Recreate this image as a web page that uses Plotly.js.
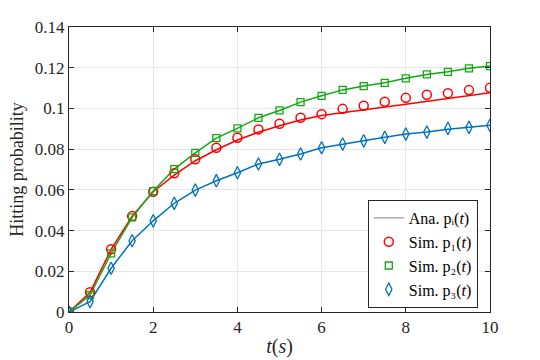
<!DOCTYPE html>
<html>
<head>
<meta charset="utf-8">
<script src="https://cdn.plot.ly/plotly-3.0.1.min.js"></script>
<style>body{margin:0;background:#fff}</style>
</head>
<body>
<div id="chart" style="width:540px;height:360px"></div>
<script>
// time samples (s)
var t = [0, 0.5, 1, 1.5, 2, 2.5, 3, 3.5, 4, 4.5, 5, 5.5, 6, 6.5, 7, 7.5, 8, 8.5, 9, 9.5, 10];

// analytical curves
var anaP1 = [0, 0.0097, 0.0308, 0.0471, 0.0591, 0.0672, 0.0743, 0.0797, 0.0845, 0.0883, 0.0915, 0.0943, 0.0965, 0.0980, 0.0993, 0.1007, 0.1021, 0.1035, 0.1049, 0.1063, 0.1077];
var anaP2 = [0, 0.0083, 0.0288, 0.0465, 0.0594, 0.0702, 0.0782, 0.0854, 0.0902, 0.0954, 0.0990, 0.1031, 0.1062, 0.1091, 0.1110, 0.1126, 0.1148, 0.1167, 0.1180, 0.1197, 0.1208];
var anaP3 = [0, 0.0051, 0.0215, 0.0350, 0.0448, 0.0534, 0.0599, 0.0645, 0.0684, 0.0727, 0.0750, 0.0776, 0.0807, 0.0825, 0.0841, 0.0858, 0.0874, 0.0884, 0.0898, 0.0907, 0.0917];

// simulation points
var simP1 = [0, 0.0097, 0.0308, 0.0471, 0.0591, 0.0681, 0.0750, 0.0807, 0.0856, 0.0897, 0.0925, 0.0954, 0.0972, 0.0998, 0.1013, 0.1033, 0.1052, 0.1067, 0.1075, 0.1090, 0.1101];
var simP2 = [0, 0.0083, 0.0288, 0.0465, 0.0594, 0.0702, 0.0782, 0.0854, 0.0902, 0.0954, 0.0990, 0.1031, 0.1062, 0.1091, 0.1110, 0.1126, 0.1148, 0.1167, 0.1180, 0.1197, 0.1208];
var simP3 = [0, 0.0051, 0.0215, 0.0350, 0.0448, 0.0534, 0.0599, 0.0645, 0.0684, 0.0727, 0.0750, 0.0776, 0.0807, 0.0825, 0.0841, 0.0858, 0.0874, 0.0884, 0.0902, 0.0907, 0.0917];

var legendNames = ['Ana. pᵢ(<i>t</i>)', 'Sim. p₁(<i>t</i>)', 'Sim. p₂(<i>t</i>)', 'Sim. p₃(<i>t</i>)'];

var red = '#ff0000', green = '#13a813', blue = '#0072bd';
var serif = 'Liberation Serif';

function anaLine(y, col) {
  return {x: t, y: y, mode: 'lines', line: {color: col, width: 1.5}, showlegend: false, hoverinfo: 'skip'};
}

var data = [
  anaLine(anaP1, red),
  anaLine(anaP2, green),
  anaLine(anaP3, blue),
  // legend entry for the analytical curves
  {x: [null], y: [null], mode: 'lines', line: {color: '#808080', width: 1}, name: legendNames[0]},
  {x: t, y: simP1, mode: 'markers', name: legendNames[1],
   marker: {symbol: 'circle-open', size: 9, color: red, line: {width: 1.5}}},
  {x: t, y: simP2, mode: 'markers', name: legendNames[2],
   marker: {symbol: 'square-open', size: 7, color: green, line: {width: 1.3}}},
  {x: t, y: simP3, mode: 'markers', name: legendNames[3],
   marker: {symbol: 'diamond-tall-open', size: 9, color: blue, line: {width: 1.3}}}
];

var layout = {
  width: 540, height: 360,
  margin: {l: 69, r: 50, t: 27, b: 48},
  paper_bgcolor: '#fff', plot_bgcolor: '#fff',
  font: {family: serif, size: 17, color: '#262626'},
  xaxis: {
    range: [0, 10], dtick: 2, tick0: 0,
    showline: true, mirror: 'ticks', linecolor: '#262626', linewidth: 1,
    ticks: 'inside', ticklen: 5, tickcolor: '#262626',
    showgrid: true, gridcolor: '#e6e6e6', zeroline: false,
    tickfont: {family: serif, size: 17, color: '#262626'},
    title: {text: '<i>t</i>(<i>s</i>)', font: {family: serif, size: 20}, standoff: 2}
  },
  yaxis: {
    range: [0, 0.14], dtick: 0.02, tick0: 0, tickformat: '~g',
    showline: true, mirror: 'ticks', linecolor: '#262626', linewidth: 1,
    ticks: 'inside', ticklen: 5, tickcolor: '#262626',
    showgrid: true, gridcolor: '#e6e6e6', zeroline: false,
    tickfont: {family: serif, size: 17, color: '#262626'},
    title: {text: 'Hitting probability', font: {family: serif, size: 18}, standoff: 6}
  },
  legend: {
    x: 0.971, xanchor: 'right', y: 0.014, yanchor: 'bottom',
    bgcolor: '#fff', bordercolor: '#262626', borderwidth: 1,
    font: {family: serif, size: 16, color: '#000'},
    tracegroupgap: 0, itemwidth: 30
  },
  showlegend: true
};

Plotly.newPlot('chart', data, layout, {displayModeBar: false, staticPlot: true});
</script>
</body>
</html>
